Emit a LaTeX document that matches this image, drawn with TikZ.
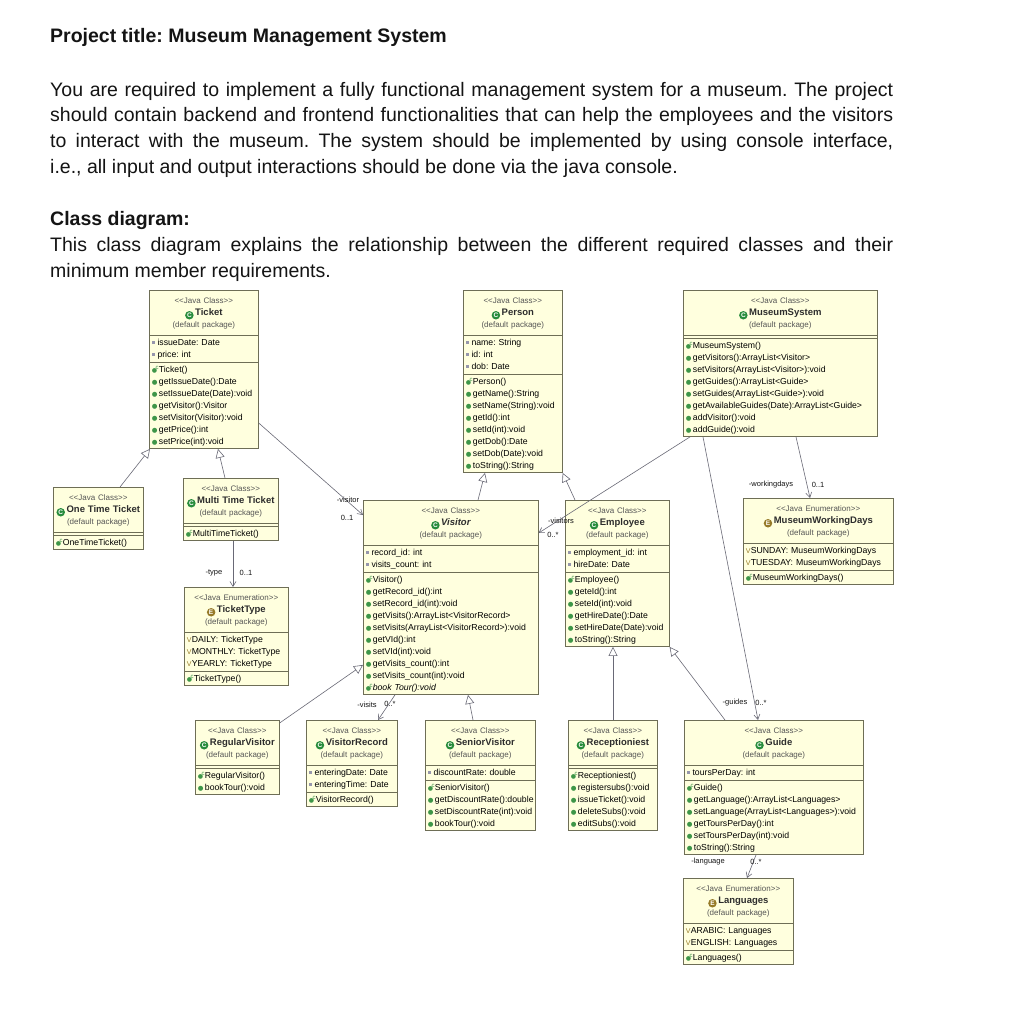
\documentclass[tikz,border=0pt]{standalone}
\usepackage{fontspec}
\usepackage{graphicx}
\setmainfont{Liberation Sans}
\newfontfamily\symfont{DejaVu Sans}
\usetikzlibrary{arrows.meta,shapes.multipart}
\frenchspacing
\definecolor{ink}{RGB}{20,20,20}
\definecolor{boxfill}{RGB}{255,255,222}
\definecolor{boxline}{RGB}{110,110,86}
\definecolor{stereo}{RGB}{85,85,85}
\definecolor{member}{RGB}{45,45,45}
\definecolor{methgreen}{RGB}{62,150,72}
\definecolor{clsgreen}{RGB}{40,140,60}
\definecolor{enumolive}{RGB}{150,122,40}
\definecolor{fieldgray}{RGB}{150,150,172}
\definecolor{link}{RGB}{105,105,118}

% member icons
\newcommand\mstrut{\rule[-3pt]{0pt}{12pt}}
\newcommand\methmark{\mstrut{\color{methgreen}\symfont\scalebox{0.75}{●}}\,}
\newcommand\ctormark{\mstrut{\color{methgreen}\symfont\scalebox{0.7}{●}}\kern-1.6pt\raisebox{3pt}{\color{methgreen}\fontsize{6}{6}\selectfont c}\kern0.3pt}
\newcommand\fieldmark{\mstrut{\color{fieldgray}\rule[1.8pt]{2.8pt}{2.8pt}}\,\,}
\newcommand\constmark{\mstrut{\color{enumolive}\fontsize{7}{6}\selectfont V}\kern0.3pt}
\newcommand\clsicon{\tikz[baseline=-3pt]\node[circle,fill=clsgreen,text=white,inner sep=0pt,minimum size=8.5pt,font=\fontsize{6.5}{6}\selectfont\bfseries]{C};}
\newcommand\enumicon{\tikz[baseline=-3pt]\node[circle,fill=enumolive,text=white,inner sep=0pt,minimum size=8.5pt,font=\fontsize{6.5}{6}\selectfont\bfseries]{E};}
% header: kind, icon, name
\newcommand\umlhead[3]{\centering\rule{0pt}{11.5pt}{\color{stereo}\fontsize{8}{12}\selectfont<{}<Java #1>{}>}\\
  {\fontsize{9.5}{12}\selectfont\bfseries#2\,#3}\\
  {\color{stereo}\fontsize{8}{12}\selectfont(default package)}\rule[-7pt]{0pt}{0pt}\par}

\tikzset{
  umlbox/.style={rectangle split, rectangle split parts=3, draw=boxline, fill=boxfill,
    line width=0.6pt, inner xsep=2.5pt, inner ysep=1pt, anchor=north west, text=member,
    font=\fontsize{8.7}{12}\selectfont, rectangle split empty part height=1pt,
    rectangle split empty part depth=0pt},
  generalize/.style={draw=link, line width=0.6pt, -{Triangle[open, length=9pt, width=9pt]}},
  associate/.style={draw=link, line width=0.6pt, -{Straight Barb[length=5pt, width=6pt]}},
  rolelabel/.style={font=\fontsize{7.5}{8}\selectfont, text=ink, inner sep=0pt},
  bodytext/.style={font=\fontsize{19.5}{25.7}\selectfont, text=ink, inner sep=0pt, anchor=base west},
}

\begin{document}
\begin{tikzpicture}[x=1pt, y=-1pt]
\fill[white] (0,0) rectangle (1024,1018);
\useasboundingbox (0,0) rectangle (1024,1018);
% text above the diagram
\node[bodytext, font=\fontsize{19.5}{25.7}\selectfont\bfseries] (title) at (50,42) {Project title: Museum Management System};
\node[bodytext] (line1) at (50,96) {\makebox[843pt][s]{You are required to implement a fully functional management system for a museum. The project}};
\node[bodytext] (line2) at (50,121.7) {\makebox[843pt][s]{should contain backend and frontend functionalities that can help the employees and the visitors}};
\node[bodytext] (line3) at (50,147.4) {\makebox[843pt][s]{to interact with the museum. The system should be implemented by using console interface,}};
\node[bodytext] (line4) at (50,173) {i.e., all input and output interactions should be done via the java console.};
\node[bodytext, font=\fontsize{19.5}{25.7}\selectfont\bfseries] (cdtitle) at (50,225) {Class diagram:};
\node[bodytext] (line5) at (50,251) {\makebox[843pt][s]{This class diagram explains the relationship between the different required classes and their}};
\node[bodytext] (line6) at (50,277) {minimum member requirements.};

% top row
\node[umlbox, text width=104pt] (ticket) at (149,290) {\umlhead{Class}{\clsicon}{Ticket}
  \nodepart{two}\raggedright\fieldmark issueDate: Date\\ \fieldmark price: int
  \nodepart{three}\raggedright\ctormark Ticket()\\ \methmark getIssueDate():Date\\ \methmark setIssueDate(Date):void\\
  \methmark getVisitor():Visitor\\ \methmark setVisitor(Visitor):void\\ \methmark getPrice():int\\ \methmark setPrice(int):void};
\node[umlbox, text width=94pt] (person) at (463,290) {\umlhead{Class}{\clsicon}{Person}
  \nodepart{two}\raggedright\fieldmark name: String\\ \fieldmark id: int\\ \fieldmark dob: Date
  \nodepart{three}\raggedright\ctormark Person()\\ \methmark getName():String\\ \methmark setName(String):void\\
  \methmark getId():int\\ \methmark setId(int):void\\ \methmark getDob():Date\\ \methmark setDob(Date):void\\ \methmark toString():String};
\node[umlbox, text width=189pt] (msys) at (683,290) {\umlhead{Class}{\clsicon}{MuseumSystem}
  \nodepart{two}
  \nodepart{three}\raggedright\ctormark MuseumSystem()\\ \methmark getVisitors():ArrayList<Visitor>\\
  \methmark setVisitors(ArrayList<Visitor>):void\\ \methmark getGuides():ArrayList<Guide>\\
  \methmark setGuides(ArrayList<Guide>):void\\ \methmark getAvailableGuides(Date):ArrayList<Guide>\\
  \methmark addVisitor():void\\ \methmark addGuide():void};

% middle row
\node[umlbox, text width=85pt] (onetime) at (53,487) {\umlhead{Class}{\clsicon}{One Time Ticket}
  \nodepart{two}
  \nodepart{three}\raggedright\ctormark OneTimeTicket()};
\node[umlbox, text width=90pt] (multi) at (183,478) {\umlhead{Class}{\clsicon}{Multi Time Ticket}
  \nodepart{two}
  \nodepart{three}\raggedright\ctormark MultiTimeTicket()};
\node[umlbox, text width=170pt] (visitor) at (363,500) {\umlhead{Class}{\clsicon}{\itshape Visitor}
  \nodepart{two}\raggedright\fieldmark record\_id: int\\ \fieldmark visits\_count: int
  \nodepart{three}\raggedright\ctormark Visitor()\\ \methmark getRecord\_id():int\\ \methmark setRecord\_id(int):void\\
  \methmark getVisits():ArrayList<VisitorRecord>\\ \methmark setVisits(ArrayList<VisitorRecord>):void\\
  \methmark getVId():int\\ \methmark setVId(int):void\\ \methmark getVisits\_count():int\\
  \methmark setVisits\_count(int):void\\ \ctormark\textit{book Tour():void}};
\node[umlbox, text width=99pt] (employee) at (565,500) {\umlhead{Class}{\clsicon}{Employee}
  \nodepart{two}\raggedright\fieldmark employment\_id: int\\ \fieldmark hireDate: Date
  \nodepart{three}\raggedright\ctormark Employee()\\ \methmark geteId():int\\ \methmark seteId(int):void\\
  \methmark getHireDate():Date\\ \methmark setHireDate(Date):void\\ \methmark toString():String};
\node[umlbox, text width=145pt] (workdays) at (743,498) {\umlhead{Enumeration}{\enumicon}{MuseumWorkingDays}
  \nodepart{two}\raggedright\constmark SUNDAY: MuseumWorkingDays\\ \constmark TUESDAY: MuseumWorkingDays
  \nodepart{three}\raggedright\ctormark MuseumWorkingDays()};
\node[umlbox, text width=99pt] (ttype) at (184,587) {\umlhead{Enumeration}{\enumicon}{TicketType}
  \nodepart{two}\raggedright\constmark DAILY: TicketType\\ \constmark MONTHLY: TicketType\\ \constmark YEARLY: TicketType
  \nodepart{three}\raggedright\ctormark TicketType()};

% bottom row
\node[umlbox, text width=79pt] (regular) at (195,720) {\umlhead{Class}{\clsicon}{RegularVisitor}
  \nodepart{two}
  \nodepart{three}\raggedright\ctormark RegularVisitor()\\ \methmark bookTour():void};
\node[umlbox, text width=86pt] (vrecord) at (306,720) {\umlhead{Class}{\clsicon}{VisitorRecord}
  \nodepart{two}\raggedright\fieldmark enteringDate: Date\\ \fieldmark enteringTime: Date
  \nodepart{three}\raggedright\ctormark VisitorRecord()};
\node[umlbox, text width=105pt] (senior) at (425,720) {\umlhead{Class}{\clsicon}{SeniorVisitor}
  \nodepart{two}\raggedright\fieldmark discountRate: double
  \nodepart{three}\raggedright\ctormark SeniorVisitor()\\ \methmark getDiscountRate():double\\
  \methmark setDiscountRate(int):void\\ \methmark bookTour():void};
\node[umlbox, text width=84pt] (recep) at (568,720) {\umlhead{Class}{\clsicon}{Receptioniest}
  \nodepart{two}
  \nodepart{three}\raggedright\ctormark Receptioniest()\\ \methmark registersubs():void\\ \methmark issueTicket():void\\
  \methmark deleteSubs():void\\ \methmark editSubs():void};
\node[umlbox, text width=174pt] (guide) at (684,720) {\umlhead{Class}{\clsicon}{Guide}
  \nodepart{two}\raggedright\fieldmark toursPerDay: int
  \nodepart{three}\raggedright\ctormark Guide()\\ \methmark getLanguage():ArrayList<Languages>\\
  \methmark setLanguage(ArrayList<Languages>):void\\ \methmark getToursPerDay():int\\
  \methmark setToursPerDay(int):void\\ \methmark toString():String};
\node[umlbox, text width=105pt] (lang) at (683,878) {\umlhead{Enumeration}{\enumicon}{Languages}
  \nodepart{two}\raggedright\constmark ARABIC: Languages\\ \constmark ENGLISH: Languages
  \nodepart{three}\raggedright\ctormark Languages()};

% generalizations
\draw[generalize] ([xshift=67pt]onetime.north west) -- ([xshift=1pt]ticket.south west);
\draw[generalize] ([xshift=42pt]multi.north west) -- ([xshift=69pt]ticket.south west);
\draw[generalize] ([xshift=115pt]visitor.north west) -- ([xshift=22pt]person.south west);
\draw[generalize] ([xshift=10pt]employee.north west) -- (person.south east);
\draw[generalize] ([yshift=-3pt]regular.north east) -- ([yshift=30pt]visitor.south west);
\draw[generalize] ([xshift=48pt]senior.north west) -- ([xshift=105pt]visitor.south west);
\draw[generalize] ([xshift=45pt]recep.north west) -- ([xshift=48pt]employee.south west);
\draw[generalize] ([xshift=41pt]guide.north west) -- (employee.south east);

% associations
\draw[associate] ([yshift=26pt]ticket.south east) -- ([yshift=-15pt]visitor.north west);
\node[rolelabel] (visitorrole) at (348,500) {-visitor};
\node[rolelabel] (visitormult) at (347,518) {0..1};
\draw[associate] ([xshift=50pt]multi.south west) -- ([xshift=49pt]ttype.north west);
\node[rolelabel] (typerole) at (214,573) {-type};
\node[rolelabel] (typemult) at (246,573) {0..1};
\draw[associate] ([xshift=7pt]msys.south west) -- ([yshift=-33pt]visitor.north east);
\node[rolelabel] (visitorsrole) at (561,521) {-visitors};
\node[rolelabel] (visitorsmult) at (553,535) {0..*};
\draw[associate] ([xshift=113pt]msys.south west) -- ([xshift=67pt]workdays.north west);
\node[rolelabel] (daysrole) at (771,485) {-workingdays};
\node[rolelabel] (daysmult) at (818,485) {0..1};
\draw[associate] ([xshift=20pt]msys.south west) -- ([xshift=74pt]guide.north west);
\node[rolelabel] (guidesrole) at (735,703) {-guides};
\node[rolelabel] (guidesmult) at (761,703) {0..*};
\draw[associate] ([xshift=32pt]visitor.south west) -- ([xshift=72pt]vrecord.north west);
\node[rolelabel] (visitsrole) at (367,705) {-visits};
\node[rolelabel] (visitsmult) at (390,704) {0..*};
\draw[associate] ([xshift=72pt]guide.south west) -- ([xshift=64pt]lang.north west);
\node[rolelabel] (langrole) at (708,862) {-language};
\node[rolelabel] (langmult) at (756,862) {0..*};
\end{tikzpicture}
\end{document}
